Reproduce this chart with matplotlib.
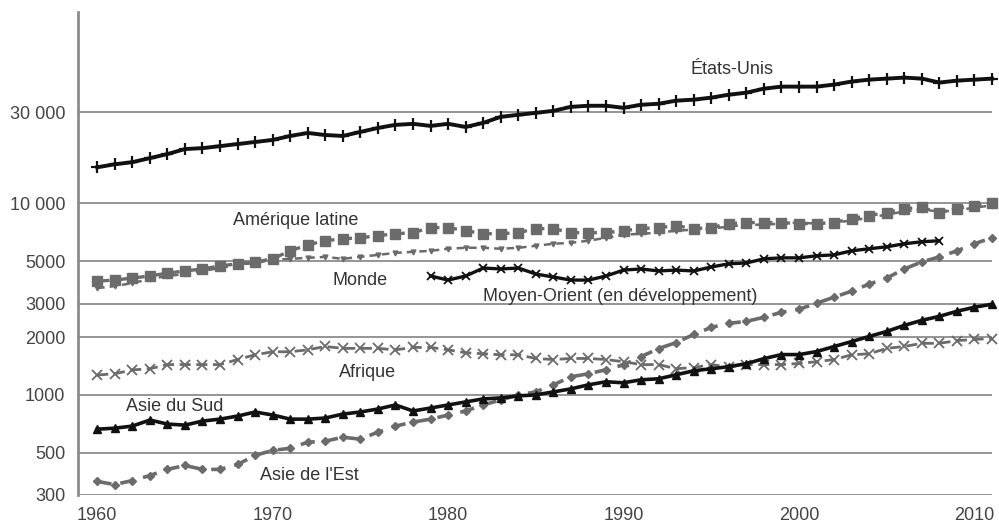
import matplotlib
matplotlib.use("Agg")
import matplotlib.pyplot as plt
import numpy as np

plt.rcParams['font.family'] = ['Liberation Sans', 'DejaVu Sans']

# PIB par habitant (échelle log)
years = list(range(1960, 2012))
years_mo = list(range(1979, 2009))

etats_unis = [15460, 16030, 16440, 17260, 18120, 19250, 19460, 19940, 20450, 20960,
              21480, 22540, 23360, 22790, 22540, 23660, 24820, 25750, 26070, 25440,
              26070, 25120, 26380, 28370, 29050, 29760, 30480, 31990, 32410, 32410,
              31620, 32800, 33200, 34460, 34880, 35730, 37020, 37930, 39810, 40800,
              40800, 40800, 41800, 43360, 44380, 44930, 45480, 44930, 42850, 43840,
              44380, 44930]

amerique_latine = [3930, 3980, 4080, 4180, 4330, 4440, 4550, 4720, 4840, 4950,
                   5140, 5660, 6080, 6390, 6540, 6620, 6790, 6950, 7040, 7480,
                   7480, 7210, 6950, 6950, 7040, 7390, 7390, 7040, 7040, 7040,
                   7210, 7390, 7480, 7660, 7390, 7480, 7850, 7950, 7950, 7950,
                   7850, 7850, 7950, 8340, 8650, 8970, 9410, 9530, 8970, 9410,
                   9760, 10000]

monde = [3610, 3700, 3840, 4030, 4180, 4280, 4440, 4600, 4780, 4890,
         5070, 5140, 5200, 5260, 5140, 5260, 5390, 5520, 5590, 5660,
         5800, 5870, 5870, 5800, 5870, 6010, 6160, 6230, 6390, 6620,
         6870, 6950, 7040, 7210, 7300, 7390, 7570, 7750, 7750, 7850,
         7950, 7850, 7950, 8140, 8440, 8750, 9080, 9300, 9080, 9190,
         9530, 9760]

moyen_orient = [4180, 3980, 4180, 4600, 4550, 4600, 4280, 4130, 3980, 3980,
                4180, 4490, 4550, 4440, 4490, 4440, 4660, 4840, 4890, 5140,
                5200, 5200, 5330, 5390, 5660, 5800, 5940, 6160, 6310, 6390]

afrique = [1270, 1290, 1350, 1370, 1440, 1440, 1440, 1440, 1530, 1620,
           1680, 1680, 1720, 1790, 1750, 1750, 1750, 1720, 1770, 1770,
           1720, 1660, 1640, 1620, 1620, 1550, 1530, 1550, 1550, 1530,
           1490, 1440, 1440, 1370, 1390, 1440, 1400, 1440, 1440, 1440,
           1460, 1490, 1530, 1620, 1640, 1750, 1790, 1860, 1860, 1920,
           1950, 1970]

asie_sud = [662, 670, 687, 739, 704, 695, 730, 747, 775, 814,
            785, 747, 747, 757, 794, 814, 844, 886, 824, 854,
            886, 919, 953, 964, 988, 1000, 1037, 1075, 1129, 1171,
            1157, 1199, 1214, 1274, 1337, 1370, 1404, 1456, 1547, 1624,
            1624, 1684, 1789, 1900, 2020, 2146, 2308, 2452, 2573, 2734,
            2870, 2977]

asie_est = [353, 340, 357, 379, 408, 428, 408, 408, 433, 483,
            513, 526, 566, 573, 601, 587, 639, 687, 721, 747,
            785, 824, 886, 941, 1000, 1037, 1129, 1243, 1290, 1354,
            1438, 1585, 1747, 1877, 2069, 2253, 2364, 2423, 2543, 2702,
            2802, 3013, 3239, 3485, 3793, 4078, 4550, 4951, 5260, 5657,
            6160, 6625]

y_ticks = [300, 500, 1000, 2000, 3000, 5000, 10000, 30000]
y_labels = ['300', '500', '1000', '2000', '3000', '5000', '10 000', '30 000']
x_ticks = [1960, 1970, 1980, 1990, 2000, 2010]

black = '#111111'
gray = '#6b6b6b'

fig = plt.figure(figsize=(9.99, 5.26), dpi=100)
ax = fig.add_axes([0.078, 0.059, 0.915, 0.918])
ax.set_yscale('log')

ax.plot(years, etats_unis, color=black, lw=2.8, marker='+', ms=8, mew=1.6, clip_on=False, zorder=5)
ax.plot(years, amerique_latine, color=gray, lw=2.4, ls='--', marker='s', ms=6.5, clip_on=False, zorder=3)
ax.plot(years, monde, color=gray, lw=1.8, ls=(0, (3, 2)), marker='v', ms=3.5, clip_on=False, zorder=2)
ax.plot(years_mo, moyen_orient, color=black, lw=2.4, marker='x', ms=6, mew=1.3, clip_on=False, zorder=5)
ax.plot(years, afrique, color=gray, lw=2.0, ls=(0, (4, 2)), marker='x', ms=6.5, mew=1.3, clip_on=False, zorder=3)
ax.plot(years, asie_sud, color=black, lw=2.6, marker='^', ms=6, clip_on=False, zorder=5)
ax.plot(years, asie_est, color=gray, lw=2.6, ls=(0, (4, 2.5)), marker='D', ms=4.5, clip_on=False, zorder=4)

lab = dict(fontsize=13, color='#333333', ha='center', va='center')
ax.text(1996.2, 50100, 'États-Unis', **lab)
ax.text(1971.3, 8140, 'Amérique latine', **lab)
ax.text(1975.0, 3980, 'Monde', **lab)
ax.text(1989.8, 3280, 'Moyen-Orient (en développement)', **lab)
ax.text(1975.4, 1306, 'Afrique', **lab)
ax.text(1964.4, 865, 'Asie du Sud', **lab)
ax.text(1972.1, 379, "Asie de l'Est", **lab)

ax.set_xlim(1958.9, 2011.0)
ax.set_ylim(300, 100000)
ax.set_yticks(y_ticks)
ax.set_yticklabels(y_labels)
ax.yaxis.set_minor_locator(matplotlib.ticker.NullLocator())
ax.set_xticks(x_ticks)
ax.tick_params(axis='both', length=0, labelsize=13, labelcolor='#444444', pad=9)

ax.grid(axis='y', color='#8c8c8c', lw=1.3)
ax.set_axisbelow(True)
for s in ['top', 'right', 'bottom']:
    ax.spines[s].set_visible(False)
ax.spines['left'].set_color('#8c8c8c')
ax.spines['left'].set_linewidth(2)

fig.savefig('out.png', dpi=100)
